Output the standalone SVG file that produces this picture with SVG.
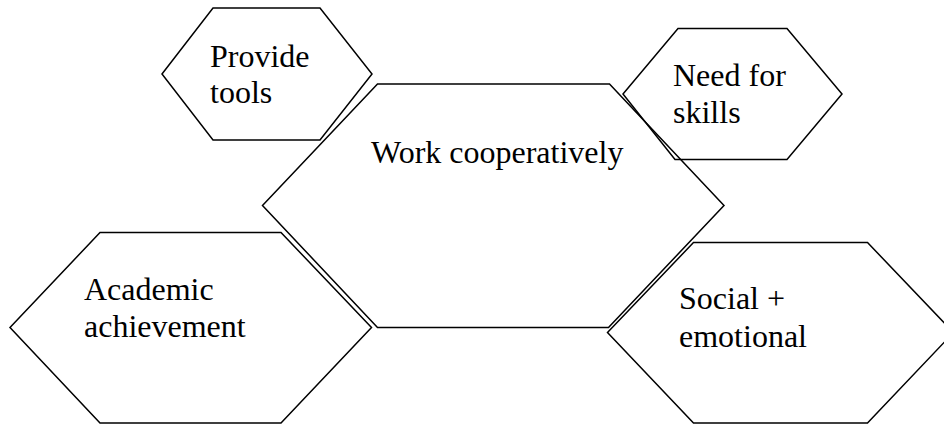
<svg xmlns="http://www.w3.org/2000/svg" width="944" height="425" viewBox="0 0 944 425">
  <style>
    .hex { fill: none; stroke: #000; stroke-width: 1.5; stroke-linejoin: miter; }
    .lbl { font-family: 'Liberation Serif', 'Times New Roman', serif; font-size: 32px; fill: #000; }
  </style>
  <rect x="0" y="0" width="944" height="425" fill="#fff"/>

  <!-- top-left hexagon -->
  <g id="provide-tools">
    <polygon class="hex" points="162,74 213,8 320,8 372,74 320,140 213,140"/>
    <text class="lbl" x="210" y="67">Provide</text>
    <text class="lbl" x="210" y="103">tools</text>
  </g>

  <!-- top-right hexagon -->
  <g id="need-for-skills">
    <polygon class="hex" points="623,94 678,28.5 787,28.5 842,94 787,159.5 675,159.5"/>
    <text class="lbl" x="673" y="86">Need for</text>
    <text class="lbl" x="673" y="123">skills</text>
  </g>

  <!-- central hexagon -->
  <g id="work-cooperatively">
    <polygon class="hex" points="262.5,205.5 377.5,84 609.5,84 724,205.5 608.5,327.5 377.5,327.5"/>
    <text class="lbl" x="371" y="163">Work cooperatively</text>
  </g>

  <!-- bottom-left hexagon -->
  <g id="academic-achievement">
    <polygon class="hex" points="10,327.5 100,232.5 281,232.5 371.5,327.5 281,423 100,423"/>
    <text class="lbl" x="84" y="300">Academic</text>
    <text class="lbl" x="84" y="337">achievement</text>
  </g>

  <!-- bottom-right hexagon, runs past the right edge -->
  <g id="social-emotional">
    <polygon class="hex" points="607.5,332.5 693.5,242.5 867.5,242.5 953.5,332.5 867.5,423 693.5,423"/>
    <text class="lbl" x="679" y="309">Social +</text>
    <text class="lbl" x="679" y="347">emotional</text>
  </g>
</svg>
